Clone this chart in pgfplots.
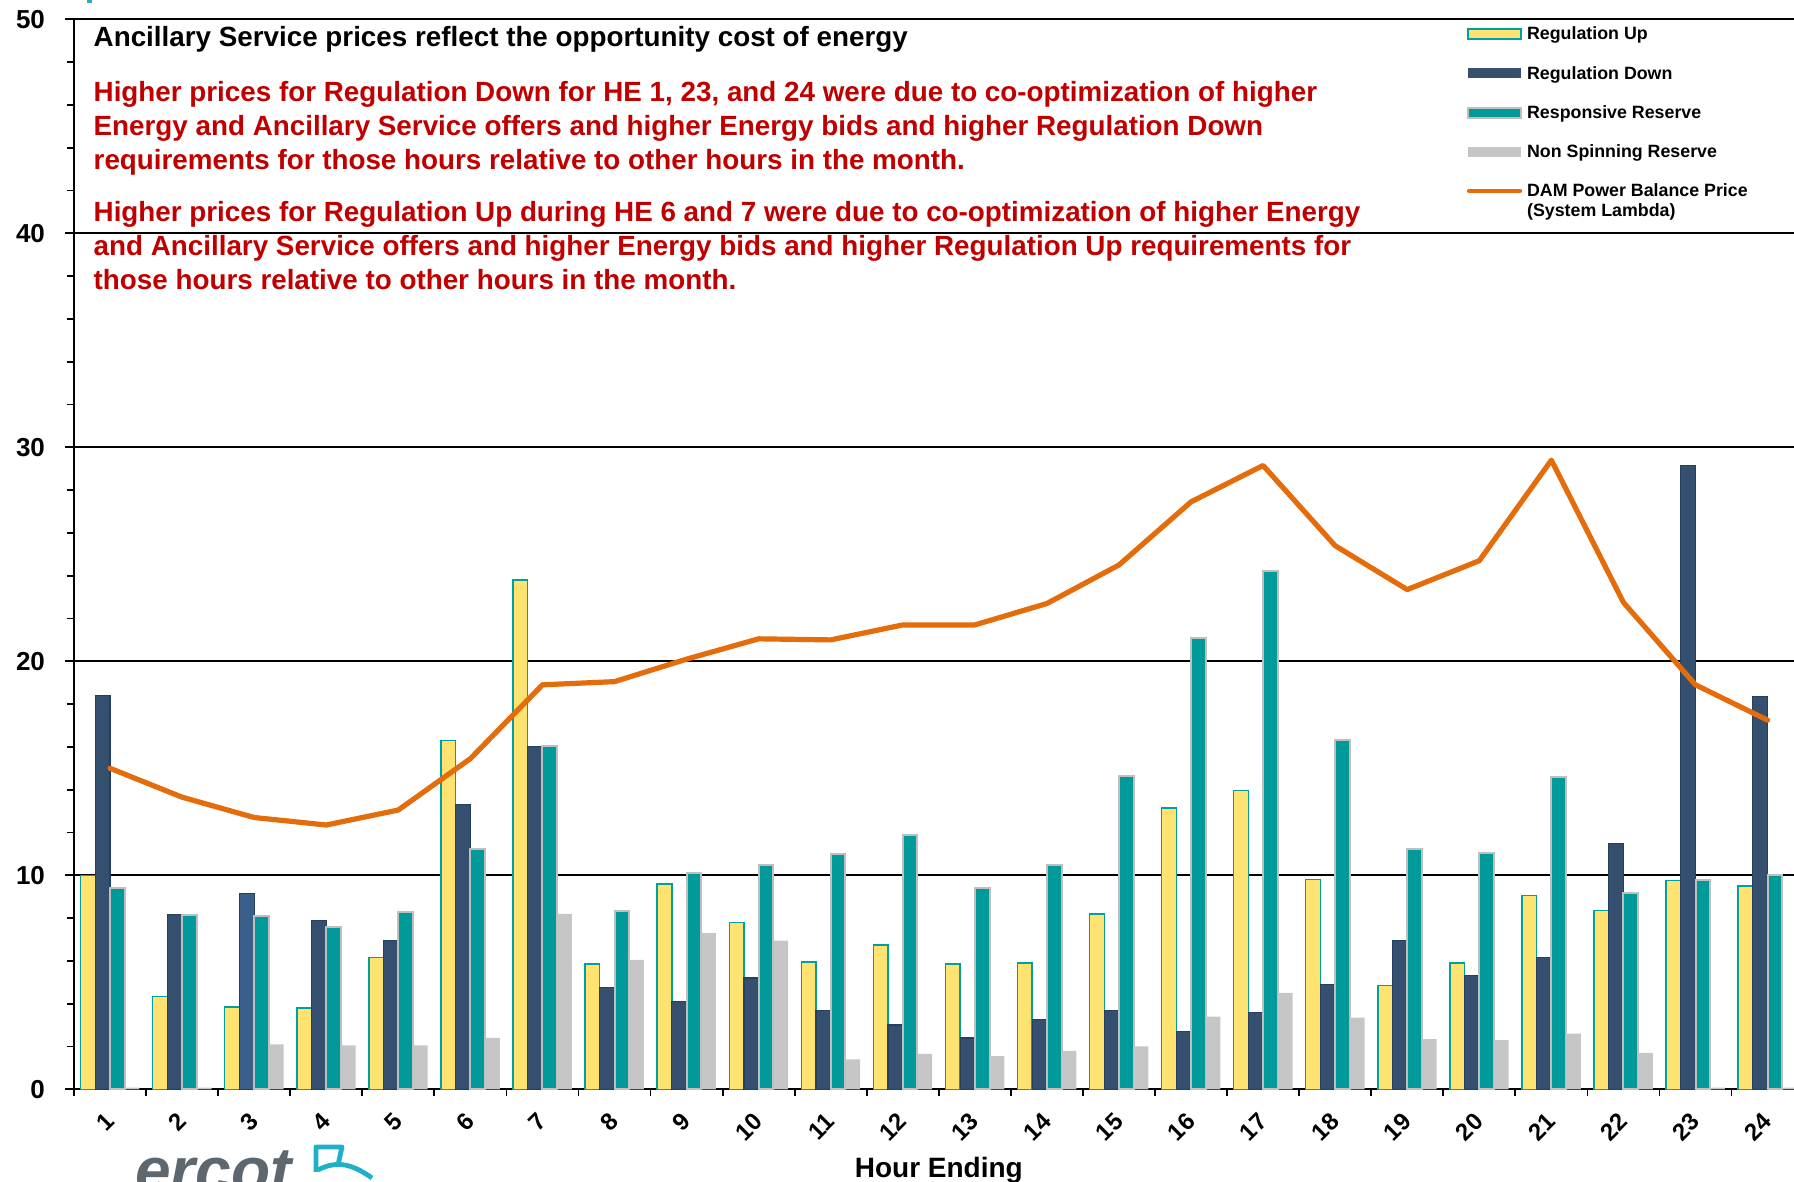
\documentclass[border=0pt]{standalone}
\usepackage{fontspec}
\setmainfont{Liberation Sans}
\usepackage{pgfplots}
\usepackage{pgfplotstable}
\pgfplotsset{compat=1.18}
\definecolor{regup}{HTML}{FFE370}
\definecolor{regupedge}{HTML}{00A0A0}
\definecolor{regdn}{HTML}{35506F}
\definecolor{regdnedge}{HTML}{243F62}
\definecolor{regdnhi}{HTML}{3A5F8A}
\definecolor{rrs}{HTML}{009A9A}
\definecolor{rrsedge}{HTML}{BFBFBF}
\definecolor{nsrs}{HTML}{C6C6C6}
\definecolor{lambda}{HTML}{E46C0A}
\definecolor{note}{HTML}{C00000}
\definecolor{logo}{HTML}{5E676E}
\definecolor{logocyan}{HTML}{1FB0C8}

% hour ending, reg up, reg down, responsive reserve, non-spin, system lambda
\pgfplotstableread{
he up down rr ns lam
1 10.0 18.4 9.4 0.08 15.0
2 4.35 8.15 8.15 0.08 13.65
3 3.85 9.15 8.1 2.1 12.7
4 3.8 7.9 7.6 2.05 12.35
5 6.15 6.95 8.3 2.05 13.05
6 16.3 13.3 11.25 2.4 15.45
7 23.8 16.0 16.05 8.2 18.9
8 5.85 4.75 8.35 6.05 19.05
9 9.6 4.1 10.1 7.3 20.1
10 7.8 5.2 10.5 6.95 21.05
11 5.95 3.7 11.0 1.4 21.0
12 6.75 3.0 11.9 1.65 21.7
13 5.85 2.4 9.4 1.55 21.7
14 5.9 3.25 10.5 1.8 22.7
15 8.2 3.7 14.65 2.0 24.5
16 13.15 2.7 21.1 3.4 27.45
17 13.95 3.6 24.2 4.5 29.15
18 9.8 4.9 16.3 3.35 25.4
19 4.85 6.95 11.25 2.35 23.35
20 5.9 5.3 11.05 2.3 24.7
21 9.05 6.15 14.6 2.6 29.4
22 8.35 11.5 9.15 1.7 22.75
23 9.75 29.15 9.8 0.08 18.9
24 9.5 18.35 10.0 0.08 17.25
}\prices

\begin{document}
\begin{tikzpicture}
\useasboundingbox (-37pt,-46.35pt) rectangle (860pt,544.65pt);
\clip (-37pt,-46.35pt) rectangle (860pt,544.65pt);
\begin{axis}[at={(0,0)},anchor=south west,scale only axis,
 width=864.8pt,height=535pt,
 xmin=0.5,xmax=24.5,ymin=0,ymax=50,
 axis lines*=left,axis line style={black,line width=1pt},
 xtick={1,...,24},minor xtick={0.5,1.5,...,24.5},
 ytick={0,10,...,50},minor ytick={2,4,...,48},
 tick align=outside,major tick length=4.5pt,minor tick length=3.5pt,
 tick style={black,line width=0.9pt},
 every major x tick/.append style={draw=none},
 ymajorgrids,major grid style={black,line width=1pt},
 /pgf/number format/assume math mode=true,
 yticklabel style={font=\fontsize{13}{13}\selectfont\bfseries,anchor=east,xshift=-6.5pt},
 xticklabel style={font=\fontsize{12}{12}\selectfont\bfseries,yshift=-9.5pt,rotate=45,anchor=east,inner sep=0pt},
 xlabel={Hour Ending},
 xlabel style={font=\fontsize{14}{14}\selectfont\bfseries,at={(axis description cs:0.5,0)},anchor=base,yshift=-44.35pt},
 bar width=7.35pt]
\addplot[ybar,bar shift=-11.03pt,fill=regup,draw=regupedge,line width=0.7pt] table[x=he,y=up]{\prices};
\addplot[ybar,bar shift=-3.68pt,fill=regdn,draw=regdnedge,line width=0.6pt] table[x=he,y=down]{\prices};
\addplot[ybar,bar shift=-3.68pt,fill=regdnhi,draw=regdnedge,line width=0.6pt] coordinates {(3,9.15)};
\addplot[ybar,bar shift=3.68pt,fill=rrs,draw=rrsedge,line width=1pt] table[x=he,y=rr]{\prices};
\addplot[ybar,bar shift=11.03pt,fill=nsrs,draw=none] table[x=he,y=ns]{\prices};
\addplot[lambda,line width=2.6pt,line join=round,line cap=round] table[x=he,y=lam]{\prices};
\end{axis}

% notes
\begin{scope}[every node/.style={anchor=base west,inner sep=0pt,font=\fontsize{13.9}{13.9}\selectfont\bfseries}]
\node at (9.65pt,521.3pt) {Ancillary Service prices reflect the opportunity cost of energy};
\node[note] at (9.65pt,493.8pt) {Higher prices for Regulation Down for HE 1, 23, and 24 were due to co-optimization of higher};
\node[note] at (9.65pt,476.9pt) {Energy and Ancillary Service offers and higher Energy bids and higher Regulation Down};
\node[note] at (9.65pt,460.0pt) {requirements for those hours relative to other hours in the month.};
\node[note] at (9.65pt,433.75pt) {Higher prices for Regulation Up during HE 6 and 7 were due to co-optimization of higher Energy};
\node[note] at (9.65pt,416.85pt) {and Ancillary Service offers and higher Energy bids and higher Regulation Up requirements for};
\node[note] at (9.65pt,399.95pt) {those hours relative to other hours in the month.};
\end{scope}

% legend
\fill[regup] (697pt,525.15pt) rectangle (723.5pt,530.15pt);
\draw[regupedge,line width=0.8pt] (697pt,525.15pt) rectangle (723.5pt,530.15pt);
\fill[regdn] (697pt,505.5pt) rectangle (723.5pt,510.5pt);
\draw[rrsedge,line width=0.9pt,fill=rrs] (697pt,485.8pt) rectangle (723.5pt,490.8pt);
\fill[nsrs] (697pt,466.3pt) rectangle (723.5pt,471.3pt);
\draw[lambda,line width=2.2pt,line cap=round] (697.5pt,449.15pt) -- (723pt,449.15pt);
\begin{scope}[every node/.style={anchor=base west,inner sep=0pt,font=\fontsize{8.9}{8.9}\selectfont\bfseries}]
\node at (726.35pt,524.65pt) {Regulation Up};
\node at (726.35pt,505.0pt) {Regulation Down};
\node at (726.35pt,485.3pt) {Responsive Reserve};
\node at (726.35pt,465.8pt) {Non Spinning Reserve};
\node at (726.35pt,446.15pt) {DAM Power Balance Price};
\node at (726.35pt,436.3pt) {(System Lambda)};
\end{scope}

% logo, cut by the lower edge
\node[anchor=base west,inner sep=0pt,text=logo,font=\fontsize{32}{32}\selectfont\bfseries\itshape] at (30.5pt,-51.85pt) {ercot};
\draw[logocyan,line width=2.4pt,line join=round] (121pt,-41.35pt) -- (121pt,-28.85pt) -- (134pt,-28.85pt) -- (132pt,-37.85pt);
\draw[logocyan,line width=2.4pt] (122pt,-40.35pt) .. controls (132pt,-35pt) and (140pt,-38pt) .. (149pt,-44.35pt);
\fill[logocyan] (6.5pt,543.15pt) rectangle (9pt,544.65pt);
\end{tikzpicture}
\end{document}
